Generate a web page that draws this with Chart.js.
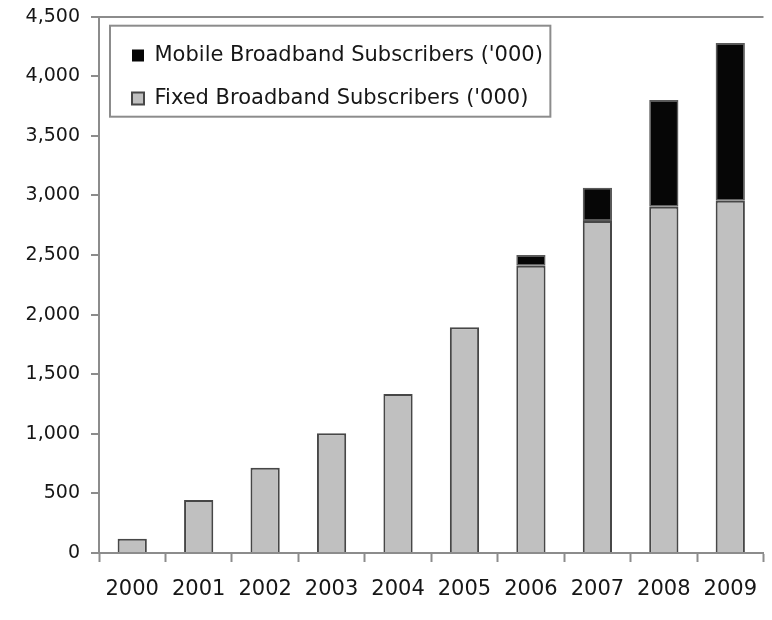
<!DOCTYPE html>
<html lang="en">
    <head>
        <meta charset="UTF-8">
        <title>Broadband Subscribers</title>
        <script src="https://cdn.jsdelivr.net/npm/chart.js"></script>
        <style>
            body { margin: 0; background: #fff; }
            #wrap { width: 772px; height: 620px; position: relative; }
        </style>
    </head>
    <body>
        <div id="wrap">
            <canvas id="subsChart"></canvas>
        </div>

        <script>
            // Données (milliers d'abonnés)
            const years = ['2000', '2001', '2002', '2003', '2004', '2005', '2006', '2007', '2008', '2009'];
            const fixedSubs = [120, 445, 715, 1005, 1335, 1895, 2410, 2785, 2905, 2955];
            const mobileSubs = [0, 0, 0, 0, 0, 0, 90, 280, 895, 1325];
            const yMax = 4500;
            const yStep = 500;

            const axisGrey = '#8c8c8c';
            const textColor = '#161616';
            const fontFamily = '"DejaVu Sans", sans-serif';

            // cadre autour de la légende
            const legendFrame = {
                id: 'legendFrame',
                afterLayout(chart) {
                    chart.legend.left += 11;
                    chart.legend.right += 11;
                    chart.legend.top += 23;
                    chart.legend.bottom += 23;
                },
                afterDraw(chart) {
                    const lg = chart.legend;
                    const ctx = chart.ctx;
                    ctx.save();
                    ctx.font = '21px ' + fontFamily;
                    const textW = Math.max(...lg.legendItems.map(i => ctx.measureText(i.text).width));
                    const x = lg.left;
                    const y = chart.chartArea.top + 9;
                    ctx.strokeStyle = axisGrey;
                    ctx.lineWidth = 2;
                    ctx.strokeRect(x, y, 22 + 12 + 10 + textW + 8, 91);
                    ctx.restore();
                }
            };

            const ctx = document.getElementById('subsChart').getContext('2d');
            new Chart(ctx, {
                type: 'bar',
                data: {
                    labels: years,
                    datasets: [{
                            label: "Fixed Broadband Subscribers ('000)",
                            data: fixedSubs,
                            backgroundColor: '#c0c0c0',
                            borderColor: '#474747',
                            borderWidth: 2,
                            borderSkipped: 'start'
                        }, {
                            label: "Mobile Broadband Subscribers ('000)",
                            data: mobileSubs,
                            backgroundColor: '#060606',
                            borderColor: '#5a5a5a',
                            borderWidth: c => (c.raw === 0 ? 0 : 1.5),
                            borderSkipped: false
                        }]
                },
                options: {
                    responsive: true,
                    maintainAspectRatio: false,
                    animation: false,
                    locale: 'en-US',
                    layout: { padding: { top: 0, right: 0, left: 0, bottom: 0 } },
                    datasets: {
                        bar: { barPercentage: 0.44, categoryPercentage: 1.0 }
                    },
                    plugins: {
                        tooltip: { enabled: false },
                        legend: {
                            position: 'chartArea',
                            align: 'start',
                            reverse: true,
                            labels: {
                                boxWidth: 12,
                                boxHeight: 12,
                                padding: 22,
                                color: textColor,
                                font: { family: fontFamily, size: 21 }
                            }
                        }
                    },
                    scales: {
                        x: {
                            stacked: true,
                            grid: {
                                offset: true,
                                drawOnChartArea: false,
                                color: 'transparent',
                                tickColor: axisGrey,
                                tickWidth: 2,
                                tickLength: 9
                            },
                            border: { display: true, color: axisGrey, width: 2 },
                            ticks: {
                                color: textColor,
                                padding: 15,
                                maxRotation: 0,
                                font: { family: fontFamily, size: 21 }
                            },
                            afterFit: s => { s.height = 67; }
                        },
                        y: {
                            stacked: true,
                            min: 0,
                            max: yMax,
                            grid: {
                                color: c => (c.tick && c.tick.value === yMax ? axisGrey : 'transparent'),
                                lineWidth: 2,
                                tickColor: axisGrey,
                                tickWidth: 2,
                                tickLength: 8
                            },
                            border: { display: true, color: axisGrey, width: 2 },
                            ticks: {
                                stepSize: yStep,
                                color: textColor,
                                padding: 11,
                                font: { family: fontFamily, size: 19, lineHeight: 0.6 }
                            },
                            afterFit: s => { s.width = 99; }
                        }
                    }
                },
                plugins: [legendFrame]
            });
        </script>
    </body>
</html>
